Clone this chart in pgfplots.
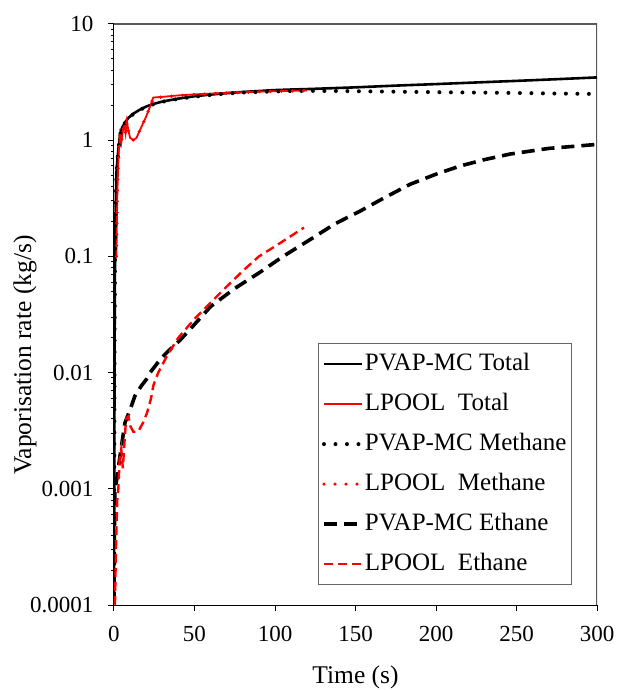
\documentclass[border=0pt]{standalone}
\usepackage{pgfplots}
\pgfplotsset{compat=1.18}
\usepackage{fontspec}
\setmainfont{Liberation Serif}

\newcommand{\tfnt}{\fontsize{23bp}{27bp}\selectfont}
\newcommand{\lfnt}{\fontsize{25.5bp}{30bp}\selectfont}
\newcommand{\gfnt}{\fontsize{25bp}{29bp}\selectfont}

\begin{document}
\begin{tikzpicture}
\path[use as bounding box] (-114bp,-85bp) rectangle (505bp,605bp);
\begin{axis}[
    at={(0,0)}, anchor=south west,
    scale only axis,
    width=483bp, height=581bp,
    xmin=0, xmax=300,
    ymode=log, ymin=1e-4, ymax=10,
    xtick={0,50,...,300},
    ytick={1e-4,1e-3,1e-2,1e-1,1,10},
    yticklabels={0.0001,0.001,0.01,0.1,1,10},
    minor ytick={},
    axis x line*=bottom, axis y line*=left,
    axis line style={black, line width=1bp},
    tick align=outside, major tick length=6bp,
    tick style={black, line width=1bp},
    /pgf/number format/assume math mode=true,
    tick label style={font=\tfnt},
    xticklabel style={yshift=-12bp},
    yticklabel style={xshift=-11bp},
    label style={font=\lfnt},
    xlabel={Time (s)},
    ylabel={Vaporisation rate (kg/s)},
    xlabel style={at={(axis description cs:0.5,-0.124)}, anchor=center},
    ylabel style={at={(axis description cs:-0.184,0.43)}, anchor=center},
    legend style={font=\gfnt, at={(1,0)}, anchor=south east, xshift=-25bp, yshift=20bp,
        draw=gray!80!black, line width=0.8bp, row sep=15bp, inner xsep=4bp, inner ysep=8bp,
        nodes={inner sep=1bp, text height=18bp, text depth=5bp}},
    legend cell align=left,
    legend image code/.code={\draw[#1] (0bp,0bp) -- (38bp,0bp);},
]
\draw[gray!70!black, line width=1.2bp] (rel axis cs:0,1) -- (rel axis cs:1,1) -- (rel axis cs:1,0);

% PVAP-MC Total
\addplot[black, line width=2.6bp] coordinates {
(0,0.0001) (0.2,0.002) (0.4,0.02) (0.6,0.08) (0.9,0.2) (1.2,0.35) (1.6,0.55)
(2.2,0.7) (2.8,0.86) (3.7,1.1) (5,1.28) (7,1.43) (9,1.56) (12,1.69) (16,1.83)
(20,1.95) (25,2.06) (30,2.15) (40,2.28) (50,2.39) (60,2.47) (70,2.54) (80,2.6)
(90,2.65) (100,2.7) (110,2.73) (122,2.76) (150,2.85) (175,2.95) (200,3.04)
(225,3.14) (250,3.24) (275,3.35) (300,3.47)};
\addlegendentry{PVAP-MC Total}

% LPOOL Total
\addplot[red, line width=1.8bp] coordinates {
(1.5,0.1) (1.8,0.2) (2.1,0.35) (2.5,0.55) (3,0.8) (3.7,1.1) (4.5,0.95) (5.5,1.2)
(6.5,1.35) (7.2,1.15) (8,1.45) (9,1.2) (10,1.05) (12,1.0) (14,1.05) (17,1.3)
(20,1.6) (22.4,1.95) (24.4,2.33) (30,2.36) (40,2.43) (50,2.48) (60,2.52)
(70,2.56) (80,2.59) (90,2.62) (100,2.64) (110,2.66) (120,2.68)};
\addlegendentry{LPOOL\ \ Total}

% PVAP-MC Methane
\addplot[black, line width=4bp, line cap=round, dash pattern=on 0bp off 11.5bp] coordinates {
(0,0.0001) (0.2,0.002) (0.4,0.02) (0.6,0.08) (0.9,0.2) (1.2,0.35) (1.6,0.55)
(2.2,0.7) (2.8,0.85) (3.7,1.1) (5,1.27) (7,1.42) (9,1.55) (12,1.68) (16,1.82)
(20,1.94) (25,2.05) (30,2.14) (40,2.27) (50,2.37) (60,2.45) (70,2.52) (80,2.57)
(90,2.6) (100,2.63) (110,2.65) (120,2.66) (140,2.65) (160,2.63) (180,2.61)
(200,2.59) (225,2.57) (250,2.55) (275,2.52) (300,2.5)};
\addlegendentry{PVAP-MC Methane}

% LPOOL Methane
\addplot[red, line width=3.6bp, line cap=round, dash pattern=on 0bp off 11bp] coordinates {
(1.5,0.1) (1.8,0.2) (2.1,0.35) (2.5,0.55) (3,0.8) (3.7,1.1) (4.5,0.95) (5.5,1.2)
(6.5,1.35) (7.2,1.15) (8,1.45) (9,1.2) (10,1.05) (12,1.0) (14,1.05) (17,1.3)
(20,1.6) (22.4,1.95) (24.4,2.32) (30,2.35) (40,2.42) (50,2.47) (60,2.51)
(70,2.55) (80,2.58) (90,2.61) (100,2.63) (110,2.65) (120,2.67)};
\addlegendentry{LPOOL\ \ Methane}

% PVAP-MC Ethane
\addplot[black, line width=3.6bp, dash pattern=on 13bp off 7bp] coordinates {
(0,0.0001) (0.3,0.0005) (0.6,0.001) (1.7,0.0012) (3.7,0.0019) (6.8,0.0037)
(10,0.0048) (13,0.0063) (17,0.0077) (20,0.0087) (22.4,0.01) (28.6,0.0129)
(33,0.015) (41,0.019) (50,0.026) (60,0.037) (75,0.053) (90,0.072) (105,0.1)
(122,0.14) (137,0.19) (153,0.246) (168,0.32) (184,0.418) (200,0.51) (215,0.6)
(230,0.68) (246,0.76) (270,0.85) (300,0.92)};
\addlegendentry{PVAP-MC Ethane}

% LPOOL Ethane
\addplot[red, line width=2.4bp, dash pattern=on 9bp off 5bp] coordinates {
(0.6,0.0001) (1.2,0.0003) (2,0.0008) (2.7,0.001) (3.5,0.0018) (4.5,0.0022)
(5.5,0.0015) (6.5,0.0025) (7.5,0.004) (9,0.0042) (10,0.0035) (12,0.0031)
(15,0.0031) (18,0.0037) (20.5,0.0045) (23,0.006) (24.5,0.0078) (27.5,0.01)
(33,0.014) (40,0.02) (50,0.029) (60,0.04) (70,0.055) (80,0.075) (90,0.1)
(100,0.122) (110,0.15) (118,0.177)};
\addlegendentry{LPOOL\ \ Ethane}
\end{axis}
\end{tikzpicture}
\end{document}
